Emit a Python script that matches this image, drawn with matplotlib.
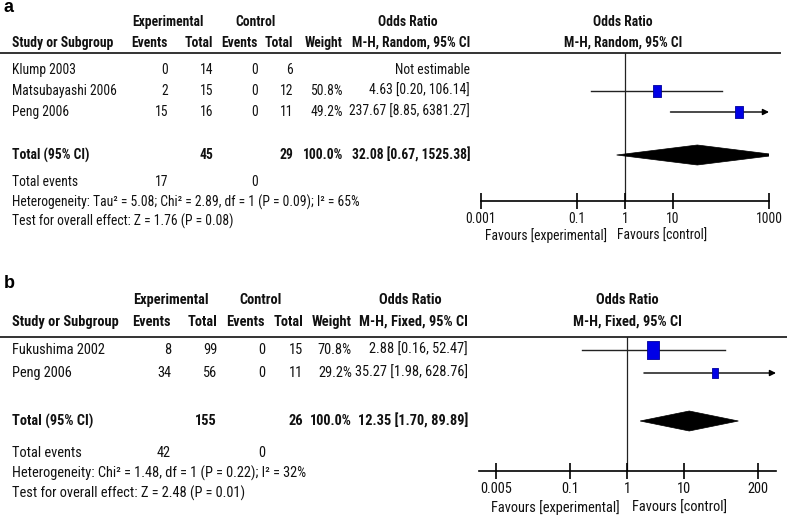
import matplotlib
matplotlib.use('Agg')
import matplotlib.pyplot as plt
from matplotlib.patches import Polygon
from matplotlib.ticker import NullLocator, FixedLocator, FixedFormatter
from matplotlib import font_manager as fm

W, H = 787, 521

# ---------------- Panel a data ----------------
a_studies = ['Klump 2003', 'Matsubayashi 2006', 'Peng 2006']
a_exp_events = [0, 2, 15]
a_exp_total = [14, 15, 16]
a_ctl_events = [0, 0, 0]
a_ctl_total = [6, 12, 11]
a_weight = [None, '50.8%', '49.2%']
a_or = [None, 4.63, 237.67]
a_lo = [None, 0.20, 8.85]
a_hi = [None, 106.14, 6381.27]
a_or_text = ['Not estimable', '4.63 [0.20, 106.14]', '237.67 [8.85, 6381.27]']
a_total = [45, 29, '100.0%']
a_total_or = [32.08, 0.67, 1525.38]
a_total_or_text = '32.08 [0.67, 1525.38]'
a_events = [17, 0]
a_het = 'Heterogeneity: Tau\u00b2 = 5.08; Chi\u00b2 = 2.89, df = 1 (P = 0.09); I\u00b2 = 65%'
a_test = 'Test for overall effect: Z = 1.76 (P = 0.08)'
a_method = 'M-H, Random, 95% CI'
a_ticks = [0.001, 0.1, 1, 10, 1000]
a_tick_labels = ['0.001', '0.1', '1', '10', '1000']

# ---------------- Panel b data ----------------
b_studies = ['Fukushima 2002', 'Peng 2006']
b_exp_events = [8, 34]
b_exp_total = [99, 56]
b_ctl_events = [0, 0]
b_ctl_total = [15, 11]
b_weight = ['70.8%', '29.2%']
b_or = [2.88, 35.27]
b_lo = [0.16, 1.98]
b_hi = [52.47, 628.76]
b_or_text = ['2.88 [0.16, 52.47]', '35.27 [1.98, 628.76]']
b_total = [155, 26, '100.0%']
b_total_or = [12.35, 1.70, 89.89]
b_total_or_text = '12.35 [1.70, 89.89]'
b_events = [42, 0]
b_het = 'Heterogeneity: Chi\u00b2 = 1.48, df = 1 (P = 0.22); I\u00b2 = 32%'
b_test = 'Test for overall effect: Z = 2.48 (P = 0.01)'
b_method = 'M-H, Fixed, 95% CI'
b_ticks = [0.005, 0.1, 1, 10, 200]
b_tick_labels = ['0.005', '0.1', '1', '10', '200']

# ---------------- font choice: a narrow sans like Arial Narrow ----------------
available = set(f.name for f in fm.fontManager.ttflist)
narrow = 'DejaVu Sans'
for cand in ['Arial Narrow', 'Liberation Sans Narrow', 'Roboto Condensed',
             'PT Sans Narrow', 'Archivo Narrow', 'Open Sans Condensed', 'Asap Condensed']:
    if cand in available:
        narrow = cand
        break
plt.rcParams['font.family'] = [narrow, 'DejaVu Sans']

# ---------------- layout / style (pixels) ----------------
layout_a = dict(
    label='a', label_y=8, fit_text='Matsubayashi 2006', fit_px=104,
    head1_y=22, head2_y=43, line_y=53, line_x1=780,
    row_y=[70, 91, 112], total_y=155, events_y=182, het_y=202, test_y=221,
    x_study=12, x_ee=168, x_et=213, x_ce=258, x_ct=293, x_w=343, x_or=470,
    x_exp_c=168, x_ctl_c=255, x_orh_c=408, x_plot_c=623,
    ax_left=481, ax_right=769, ax_bottom=201, one_px=625, decade=48,
    fav_y=236, fav_l=607, fav_r=617,
    sq_h=[0, 12, 12], sq_w=[0, 8, 8],
)
layout_b = dict(
    label='b', label_y=283, fit_text='Fukushima 2002', fit_px=93,
    head1_y=300, head2_y=322, line_y=337, line_x1=787,
    row_y=[350, 373], total_y=421, events_y=453, het_y=473, test_y=493,
    x_study=12, x_ee=171, x_et=217, x_ce=265, x_ct=303, x_w=352, x_or=468,
    x_exp_c=171, x_ctl_c=261, x_orh_c=410, x_plot_c=627,
    ax_left=479, ax_right=776, ax_bottom=471, one_px=627, decade=57,
    fav_y=508, fav_r=632, fav_l=620,
    sq_h=[19, 10], sq_w=[12.5, 7],
)

fig = plt.figure(figsize=(W / 100, H / 100), dpi=100)
ax0 = fig.add_axes([0, 0, 1, 1])
ax0.set_xlim(0, W)
ax0.set_ylim(H, 0)
ax0.axis('off')
renderer = fig.canvas.get_renderer()


def fit_size(s, px):
    tmp = ax0.text(0, 0, s, fontsize=10)
    w = tmp.get_window_extent(renderer).width
    tmp.remove()
    return 10 * px / w


SQ_COLOR = '#0000e6'
SQ_EDGE = '#00009a'
TXT = '#111111'


def draw_panel(L, studies, ee, et, ce, ct, wt, orv, lo, hi, ortxt,
               total, tor, tortxt, events, het, test, method, ticks, tlabels):
    fs = fit_size(L['fit_text'], L['fit_px'])

    def t(x, y, s, ha='left', bold=False):
        ax0.text(x, y, s, ha=ha, va='center', fontsize=fs,
                 fontweight='bold' if bold else 'normal', color=TXT)

    ax0.text(4, L['label_y'], L['label'], ha='left', va='center', fontsize=13,
             fontweight='bold', family=['Liberation Sans', 'DejaVu Sans'])
    # header row 1
    t(L['x_exp_c'], L['head1_y'], 'Experimental', 'center', True)
    t(L['x_ctl_c'], L['head1_y'], 'Control', 'center', True)
    t(L['x_orh_c'], L['head1_y'], 'Odds Ratio', 'center', True)
    t(L['x_plot_c'], L['head1_y'], 'Odds Ratio', 'center', True)
    # header row 2
    y2 = L['head2_y']
    t(L['x_study'], y2, 'Study or Subgroup', 'left', True)
    t(L['x_ee'], y2, 'Events', 'right', True)
    t(L['x_et'], y2, 'Total', 'right', True)
    t(L['x_ce'], y2, 'Events', 'right', True)
    t(L['x_ct'], y2, 'Total', 'right', True)
    t(L['x_w'], y2, 'Weight', 'right', True)
    t(L['x_or'], y2, method, 'right', True)
    t(L['x_plot_c'], y2, method, 'center', True)
    ax0.plot([0, L['line_x1']], [L['line_y'], L['line_y']], color='#333333', lw=1.4)
    # study rows
    for i, s in enumerate(studies):
        y = L['row_y'][i]
        t(L['x_study'], y, s)
        t(L['x_ee'], y, str(ee[i]), 'right')
        t(L['x_et'], y, str(et[i]), 'right')
        t(L['x_ce'], y, str(ce[i]), 'right')
        t(L['x_ct'], y, str(ct[i]), 'right')
        if wt[i] is not None:
            t(L['x_w'], y, wt[i], 'right')
        t(L['x_or'], y, ortxt[i], 'right')
    # total row
    y = L['total_y']
    t(L['x_study'], y, 'Total (95% CI)', 'left', True)
    t(L['x_et'], y, str(total[0]), 'right', True)
    t(L['x_ct'], y, str(total[1]), 'right', True)
    t(L['x_w'], y, total[2], 'right', True)
    t(L['x_or'], y, tortxt, 'right', True)
    y = L['events_y']
    t(L['x_study'], y, 'Total events')
    t(L['x_ee'], y, str(events[0]), 'right')
    t(L['x_ce'], y, str(events[1]), 'right')
    t(L['x_study'], L['het_y'], het)
    t(L['x_study'], L['test_y'], test)
    t(L['fav_l'], L['fav_y'], 'Favours [experimental]', 'right')
    t(L['fav_r'], L['fav_y'], 'Favours [control]', 'left')

    # forest plot axes
    left, right = L['ax_left'], L['ax_right']
    top, bottom = L['line_y'], L['ax_bottom']
    ax = fig.add_axes([left / W, 1 - bottom / H, (right - left) / W, (bottom - top) / H])
    ax.set_facecolor('none')
    ax.set_xscale('log')
    xmin = 10 ** ((left - L['one_px']) / L['decade'])
    xmax = 10 ** ((right - L['one_px']) / L['decade'])
    ax.set_xlim(xmin, xmax)
    ax.set_ylim(bottom, top)
    for sp in ['top', 'left', 'right']:
        ax.spines[sp].set_visible(False)
    ax.spines['bottom'].set_linewidth(1.2)
    ax.set_yticks([])
    ax.xaxis.set_major_locator(FixedLocator(ticks))
    ax.xaxis.set_major_formatter(FixedFormatter(tlabels))
    ax.xaxis.set_minor_locator(NullLocator())
    ax.tick_params(axis='x', direction='inout', length=12, width=1.2, pad=2,
                   labelsize=fs, labelcolor=TXT)
    ax.plot([1, 1], [top, bottom], color='#222222', lw=0.9, zorder=1)
    for i in range(len(studies)):
        if orv[i] is None:
            continue
        y = L['row_y'][i]
        if hi[i] > xmax:
            ax.annotate('', xy=(xmax, y), xytext=(lo[i], y),
                        arrowprops=dict(arrowstyle='-|>', lw=1.0, color='black',
                                        mutation_scale=9, shrinkA=0, shrinkB=0),
                        annotation_clip=False)
        else:
            ax.plot([lo[i], hi[i]], [y, y], color='#222222', lw=1.0, zorder=2)
        ratio = L['sq_w'][i] / L['sq_h'][i] / 2
        verts = [(-ratio, -0.5), (ratio, -0.5), (ratio, 0.5), (-ratio, 0.5), (-ratio, -0.5)]
        ax.plot([orv[i]], [y], marker=verts, markersize=L['sq_h'][i] / 1.389,
                markerfacecolor=SQ_COLOR, markeredgecolor=SQ_EDGE,
                markeredgewidth=0.6, linestyle='none', zorder=3)
    y = L['total_y']
    dia = Polygon([(tor[1], y), (tor[0], y - 10), (tor[2], y), (tor[0], y + 10)],
                  closed=True, facecolor='black', edgecolor='black', lw=0.5, zorder=3)
    ax.add_patch(dia)


draw_panel(layout_a, a_studies, a_exp_events, a_exp_total, a_ctl_events, a_ctl_total,
           a_weight, a_or, a_lo, a_hi, a_or_text, a_total, a_total_or, a_total_or_text,
           a_events, a_het, a_test, a_method, a_ticks, a_tick_labels)
draw_panel(layout_b, b_studies, b_exp_events, b_exp_total, b_ctl_events, b_ctl_total,
           b_weight, b_or, b_lo, b_hi, b_or_text, b_total, b_total_or, b_total_or_text,
           b_events, b_het, b_test, b_method, b_ticks, b_tick_labels)

fig.savefig('out.png', dpi=100)
